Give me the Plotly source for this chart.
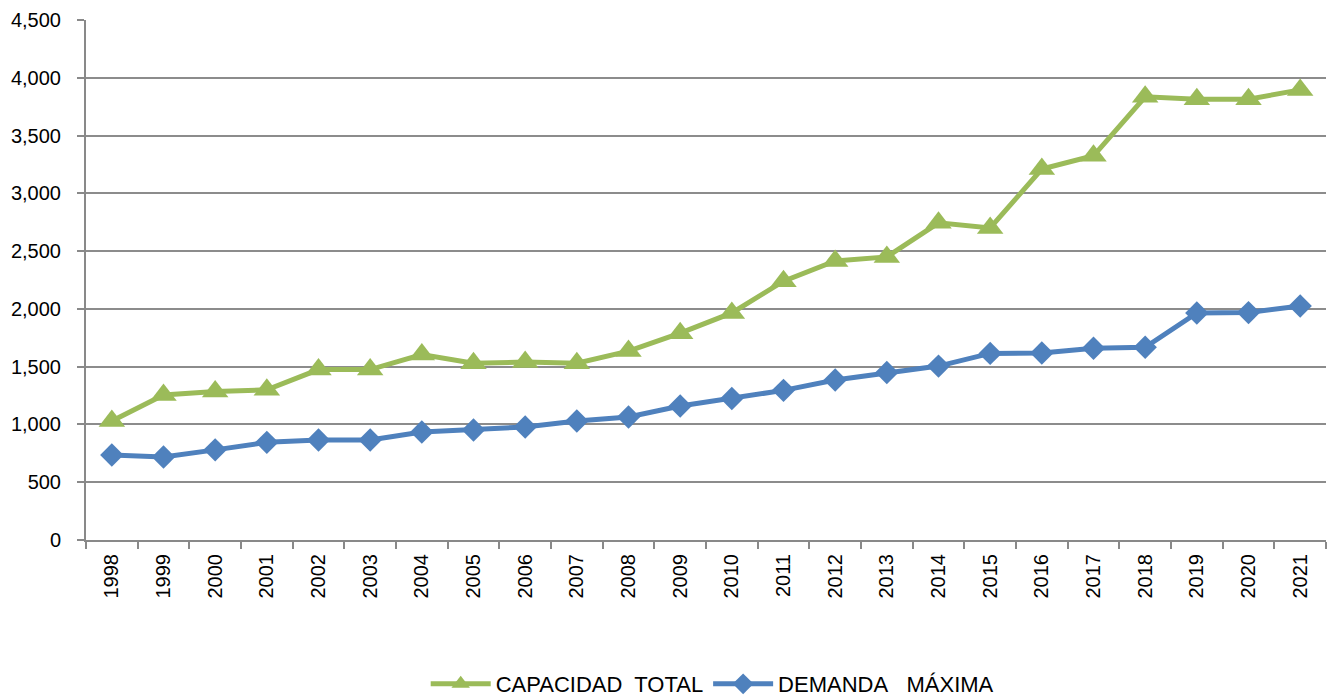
import plotly.graph_objects as go

years = [str(y) for y in range(1998, 2022)]
capacidad_total = [1030, 1255, 1285, 1300, 1475, 1475, 1605, 1530, 1540, 1530, 1635, 1790,
                   1965, 2240, 2415, 2450, 2745, 2700, 3210, 3325, 3835, 3815, 3815, 3895]
demanda_maxima = [735, 718, 780, 845, 865, 865, 935, 952, 978, 1030, 1065, 1160,
                  1225, 1295, 1385, 1450, 1505, 1615, 1618, 1660, 1668, 1965, 1968, 2025]

GREEN = "#9BBB59"
BLUE = "#4F81BD"

fig = go.Figure()
fig.add_trace(go.Scatter(
    x=years, y=capacidad_total, mode="lines+markers",
    name="CAPACIDAD\u00a0 TOTAL",
    line=dict(color=GREEN, width=5),
    marker=dict(symbol="triangle-up", size=23, color=GREEN),
))
fig.add_trace(go.Scatter(
    x=years, y=demanda_maxima, mode="lines+markers",
    name="DEMANDA\u00a0\u00a0 MÁXIMA",
    line=dict(color=BLUE, width=5),
    marker=dict(symbol="diamond", size=18, color=BLUE),
))

fig.update_layout(
    width=1335, height=698,
    margin=dict(l=78, r=17, t=12, b=166, autoexpand=False),
    paper_bgcolor="white", plot_bgcolor="white",
    font=dict(family="Liberation Sans, Arial, sans-serif", size=20, color="#000000"),
    showlegend=True,
    legend=dict(orientation="h", x=0.505, xanchor="center", y=-0.277, yanchor="middle",
                font=dict(size=22), traceorder="normal", itemwidth=60),
    xaxis=dict(
        type="category", tickangle=-90, showgrid=False, automargin=False,
        showline=True, linecolor="#898989", linewidth=2,
        ticks="outside", tickson="boundaries", ticklen=7, tickcolor="#898989", tickwidth=2,
        tickfont=dict(size=20), range=[-0.5, 23.5], ticklabelstandoff=4,
    ),
    yaxis=dict(
        range=[0, 4500], dtick=500, tickformat=",", automargin=False,
        showgrid=True, gridcolor="#8C8C8C", gridwidth=2,
        showline=True, linecolor="#898989", linewidth=2,
        ticks="outside", ticklen=7, tickcolor="#898989", tickwidth=2,
        tickfont=dict(size=20), zeroline=False, ticklabelstandoff=12,
    ),
)

fig.write_html("out.html")
